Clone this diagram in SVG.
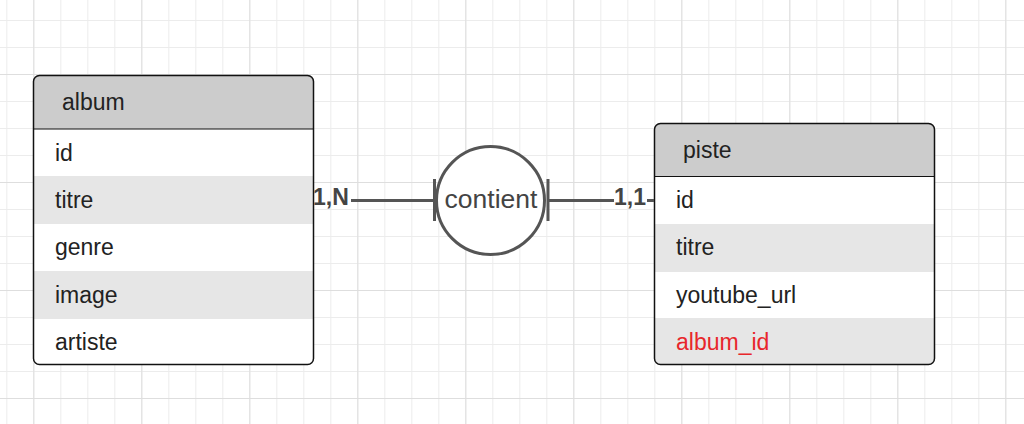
<svg xmlns="http://www.w3.org/2000/svg" width="1024" height="424" viewBox="0 0 1024 424">
<defs>
<pattern id="minor" patternUnits="userSpaceOnUse" x="6.3" y="20" width="27" height="27">
<path d="M0.5 0V27M0 0.5H27" fill="none" stroke="#ececec" stroke-width="1"/>
</pattern>
<pattern id="major" patternUnits="userSpaceOnUse" x="33.3" y="74" width="108" height="108">
<path d="M0.5 0V108M0 0.5H108" fill="none" stroke="#dedede" stroke-width="1"/>
</pattern>
<clipPath id="clipAlbum"><rect x="33.5" y="75.5" width="280" height="289" rx="6"/></clipPath>
<clipPath id="clipPiste"><rect x="654.5" y="123.5" width="280" height="241" rx="6"/></clipPath>
</defs>
<style>
.hdr{fill:#cccccc}
.alt{fill:#e6e6e6}
.wht{fill:#ffffff}
.border{fill:none;stroke:#111;stroke-width:1.5}
.sep{stroke:#111;stroke-width:1.2}
.t{font-family:"Liberation Sans",Arial,sans-serif;font-size:23px;fill:#222}
.fk{fill:#e8262b}
.conn{stroke:#555;stroke-width:3;fill:none}
.card{font-family:"Liberation Sans",Arial,sans-serif;font-size:23px;font-weight:bold;fill:#444}
.rel{font-family:"Liberation Sans",Arial,sans-serif;font-size:26.5px;fill:#444}
</style>
<rect width="1024" height="424" fill="#ffffff"/>
<rect width="1024" height="424" fill="url(#minor)"/>
<rect width="1024" height="424" fill="url(#major)"/>

<g id="album">
<g clip-path="url(#clipAlbum)">
<rect class="hdr" x="33" y="75" width="281" height="54"/>
<rect class="wht" x="33" y="129" width="281" height="47"/>
<rect class="alt" x="33" y="176" width="281" height="48"/>
<rect class="wht" x="33" y="224" width="281" height="47"/>
<rect class="alt" x="33" y="271" width="281" height="48"/>
<rect class="wht" x="33" y="319" width="281" height="46"/>
</g>
<line class="sep" x1="33.5" y1="129" x2="313.5" y2="129"/>
<rect class="border" x="33.5" y="75.5" width="280" height="289" rx="6"/>
<text class="t" x="62" y="110">album</text>
<text class="t" x="55" y="161">id</text>
<text class="t" x="55" y="208">titre</text>
<text class="t" x="55" y="255">genre</text>
<text class="t" x="55" y="303">image</text>
<text class="t" x="55" y="350">artiste</text>
</g>

<g id="piste">
<g clip-path="url(#clipPiste)">
<rect class="hdr" x="654" y="123" width="281" height="53"/>
<rect class="wht" x="654" y="176" width="281" height="48"/>
<rect class="alt" x="654" y="224" width="281" height="48"/>
<rect class="wht" x="654" y="272" width="281" height="46"/>
<rect class="alt" x="654" y="318" width="281" height="47"/>
</g>
<line class="sep" x1="654.5" y1="176.5" x2="934.5" y2="176.5"/>
<rect class="border" x="654.5" y="123.5" width="280" height="241" rx="6"/>
<text class="t" x="683" y="158">piste</text>
<text class="t" x="676" y="208">id</text>
<text class="t" x="676" y="255">titre</text>
<text class="t" x="676" y="303">youtube_url</text>
<text class="t fk" x="676" y="350">album_id</text>
</g>

<g id="contient">
<circle class="conn" cx="490.5" cy="200.5" r="54" style="fill:#ffffff"/>
<text class="rel" x="491" y="208" text-anchor="middle">contient</text>
</g>

<g id="connectors">
<line class="conn" x1="351" y1="200.5" x2="434" y2="200.5"/>
<line class="conn" x1="434.5" y1="179" x2="434.5" y2="221"/>
<line class="conn" x1="548" y1="200.5" x2="614" y2="200.5"/>
<line class="conn" x1="548" y1="179" x2="548" y2="221"/>
<line class="conn" x1="647" y1="200.5" x2="654" y2="200.5"/>
<text class="card" x="313" y="205">1,N</text>
<text class="card" x="614" y="205">1,1</text>
</g>
</svg>
